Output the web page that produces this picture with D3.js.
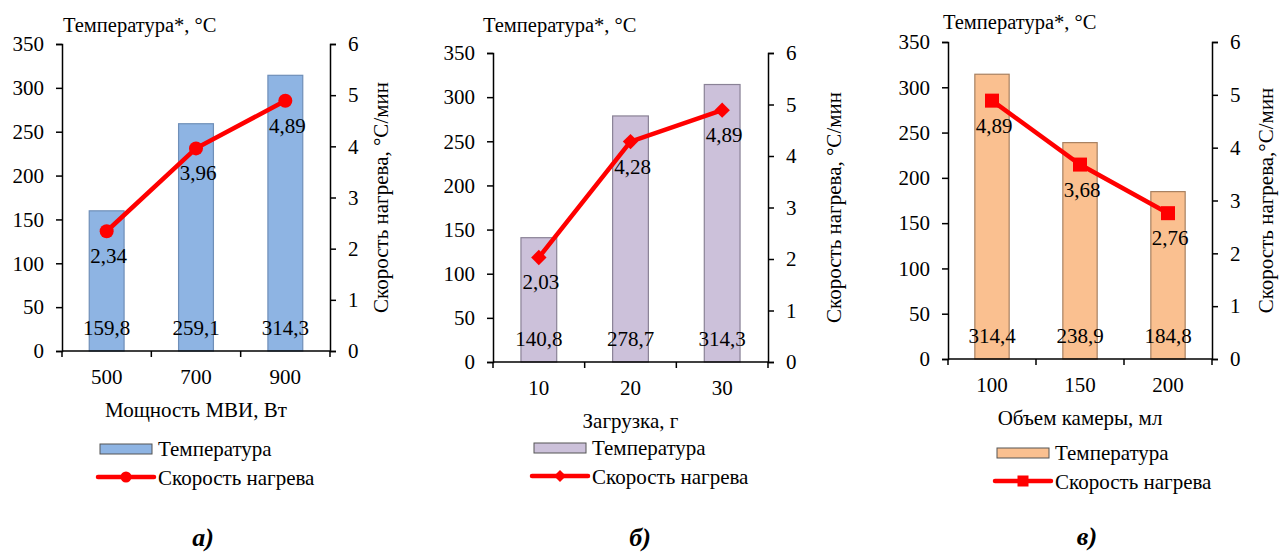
<!DOCTYPE html>
<html>
<head>
<meta charset="utf-8">
<title>Температура и скорость нагрева</title>
<script src="https://cdn.jsdelivr.net/npm/d3@7"></script>
<style>
  body { margin: 0; background: #fff; }
</style>
</head>
<body>
<svg id="chart" width="1281" height="552"></svg>
<script>
// данные
var tempTicks = [0, 50, 100, 150, 200, 250, 300, 350]
var rateTicks = [0, 1, 2, 3, 4, 5, 6]

var powerCats = ["500", "700", "900"]
var powerTemp = [159.8, 259.1, 314.3]
var powerRate = [2.34, 3.96, 4.89]

var loadCats = ["10", "20", "30"]
var loadTemp = [140.8, 278.7, 314.3]
var loadRate = [2.03, 4.28, 4.89]

var volumeCats = ["100", "150", "200"]
var volumeTemp = [314.4, 238.9, 184.8]
var volumeRate = [4.89, 3.68, 2.76]

var titleLeft = "Температура*, °C"
var titleRight = "Скорость нагрева, °C/мин"
var titleRightC = "Скорость нагрева,°C/мин"
var legendBar = "Температура"
var legendLine = "Скорость нагрева"

var FONT = "Liberation Serif"
var fmt = function (v) { return String(v).replace(".", ",") }

var svg = d3.select("#chart").attr("font-family", FONT)

// панели: расположение
var panels = [
  { cats: powerCats, temp: powerTemp, rate: powerRate, x0: 62, x1: 330, y0: 44, y1: 351,
    fill: "#8eb4e3", stroke: "#6f8fb8", marker: "circle", xTitle: "Мощность МВИ, Вт", rTitle: titleRight,
    titleX: 63, titleY: 32, rTitleX: 381, legX: 100, legY: 444, tag: "а)", tagX: 203, tagY: 546 },
  { cats: loadCats, temp: loadTemp, rate: loadRate, x0: 493, x1: 768, y0: 53, y1: 362,
    fill: "#ccc1da", stroke: "#8a8296", marker: "diamond", xTitle: "Загрузка, г", rTitle: titleRight,
    titleX: 483, titleY: 32, rTitleX: 834, legX: 534, legY: 443, tag: "б)", tagX: 640, tagY: 546 },
  { cats: volumeCats, temp: volumeTemp, rate: volumeRate, x0: 948, x1: 1212, y0: 42, y1: 359,
    fill: "#fac090", stroke: "#a88060", marker: "square", xTitle: "Объем камеры, мл", rTitle: titleRightC,
    titleX: 943, titleY: 29, rTitleX: 1266, legX: 997, legY: 448, tag: "в)", tagX: 1087, tagY: 545 }
]

function txt(sel) {
  return sel.append("text").attr("font-family", FONT).attr("fill", "#000")
}

panels.forEach(function (p) {
  var g = svg.append("g")

  var x = d3.scaleBand().domain(p.cats).range([p.x0, p.x1]).paddingInner(0.61).paddingOuter(0.305)
  var yL = d3.scaleLinear().domain([0, 350]).range([p.y1, p.y0])
  var yR = d3.scaleLinear().domain([0, 6]).range([p.y1, p.y0])

  // столбцы
  g.selectAll(".bar").data(p.temp).enter().append("rect")
    .attr("x", function (d, i) { return x(p.cats[i]) })
    .attr("y", function (d) { return yL(d) })
    .attr("width", x.bandwidth())
    .attr("height", function (d) { return yL(0) - yL(d) })
    .attr("fill", p.fill)
    .attr("stroke", p.stroke)
    .attr("stroke-width", 1.2)

  // подписи столбцов
  p.temp.forEach(function (d, i) {
    txt(g).attr("x", x(p.cats[i]) + x.bandwidth() / 2)
      .attr("y", p.y1 - 16)
      .attr("text-anchor", "middle")
      .attr("font-size", 21)
      .text(fmt(d))
  })

  // оси
  var axL = d3.axisLeft(yL).tickValues(tempTicks).tickFormat(d3.format("d")).tickSize(6).tickPadding(12)
  var axR = d3.axisRight(yR).tickValues(rateTicks).tickFormat(d3.format("d")).tickSize(6).tickPadding(12)
  var gl = g.append("g").attr("transform", "translate(" + p.x0 + ",0)").call(axL)
  var gr = g.append("g").attr("transform", "translate(" + p.x1 + ",0)").call(axR)
  ;[gl, gr].forEach(function (a) {
    a.attr("font-family", FONT).attr("font-size", 21)
    a.select(".domain").attr("stroke", "#000").attr("stroke-width", 1.5)
    a.selectAll(".tick line").attr("stroke", "#000").attr("stroke-width", 1.5)
    a.selectAll("text").attr("fill", "#000").attr("font-family", FONT)
  })

  // ось X
  var step = x.step()
  var gx = g.append("g")
  gx.append("line").attr("x1", p.x0).attr("x2", p.x1).attr("y1", p.y1).attr("y2", p.y1)
    .attr("stroke", "#000").attr("stroke-width", 1.5)
  d3.range(p.cats.length + 1).forEach(function (i) {
    gx.append("line").attr("x1", p.x0 + i * step).attr("x2", p.x0 + i * step)
      .attr("y1", p.y1).attr("y2", p.y1 + 6).attr("stroke", "#000").attr("stroke-width", 1.5)
  })
  p.cats.forEach(function (d) {
    txt(gx).attr("x", x(d) + x.bandwidth() / 2)
      .attr("y", p.y1 + 33)
      .attr("text-anchor", "middle")
      .attr("font-size", 21)
      .text(d)
  })
  txt(g).attr("x", (p.x0 + p.x1) / 2).attr("y", p.y1 + 66)
    .attr("text-anchor", "middle").attr("font-size", 21)
    .text(p.xTitle)

  // заголовки осей Y
  txt(g).attr("x", p.titleX).attr("y", p.titleY).attr("font-size", 20.5).text(titleLeft)
  txt(g).attr("transform", "translate(" + p.rTitleX + "," + ((p.y0 + p.y1) / 2) + ") rotate(-90)")
    .attr("text-anchor", "middle").attr("dy", "0.35em").attr("font-size", 21)
    .text(p.rTitle)

  // линия скорости нагрева
  var line = d3.line()
    .x(function (d, i) { return x(p.cats[i]) + x.bandwidth() / 2 })
    .y(function (d) { return yR(d) })
  g.append("path").datum(p.rate).attr("d", line)
    .attr("fill", "none").attr("stroke", "#ff0000").attr("stroke-width", 4.5)

  function drawMarker(sel, kind, size) {
    if (kind === "circle") sel.append("circle").attr("r", size * 0.5).attr("fill", "#ff0000")
    else if (kind === "diamond") sel.append("path").attr("d", "M0," + (-size * 0.55) + "L" + (size * 0.55) + ",0L0," + (size * 0.55) + "L" + (-size * 0.55) + ",0Z").attr("fill", "#ff0000")
    else sel.append("rect").attr("x", -size / 2).attr("y", -size / 2).attr("width", size).attr("height", size).attr("fill", "#ff0000")
  }

  p.rate.forEach(function (d, i) {
    var cx = x(p.cats[i]) + x.bandwidth() / 2
    var m = g.append("g").attr("transform", "translate(" + cx + "," + yR(d) + ")")
    drawMarker(m, p.marker, 14)
    txt(g).attr("x", cx + 2).attr("y", yR(d) + 32)
      .attr("text-anchor", "middle").attr("font-size", 21).text(fmt(d))
  })

  // легенда
  var lg = g.append("g").attr("transform", "translate(" + p.legX + "," + p.legY + ")")
  lg.append("rect").attr("x", 0).attr("y", 0).attr("width", 52).attr("height", 10)
    .attr("fill", p.fill).attr("stroke", "#555").attr("stroke-width", 1)
  txt(lg).attr("x", 58).attr("y", 5).attr("dy", "0.35em").attr("font-size", 21).text(legendBar)
  lg.append("line").attr("x1", -2).attr("x2", 54).attr("y1", 33).attr("y2", 33)
    .attr("stroke", "#ff0000").attr("stroke-width", 4.5).attr("stroke-linecap", "round")
  var lm = lg.append("g").attr("transform", "translate(26,33)")
  drawMarker(lm, p.marker, 11)
  txt(lg).attr("x", 58).attr("y", 34).attr("dy", "0.35em").attr("font-size", 21).text(legendLine)

  // буква панели
  txt(g).attr("x", p.tagX).attr("y", p.tagY)
    .attr("text-anchor", "middle").attr("font-size", 26)
    .attr("font-weight", "bold").attr("font-style", "italic")
    .text(p.tag)
})
</script>
</body>
</html>
